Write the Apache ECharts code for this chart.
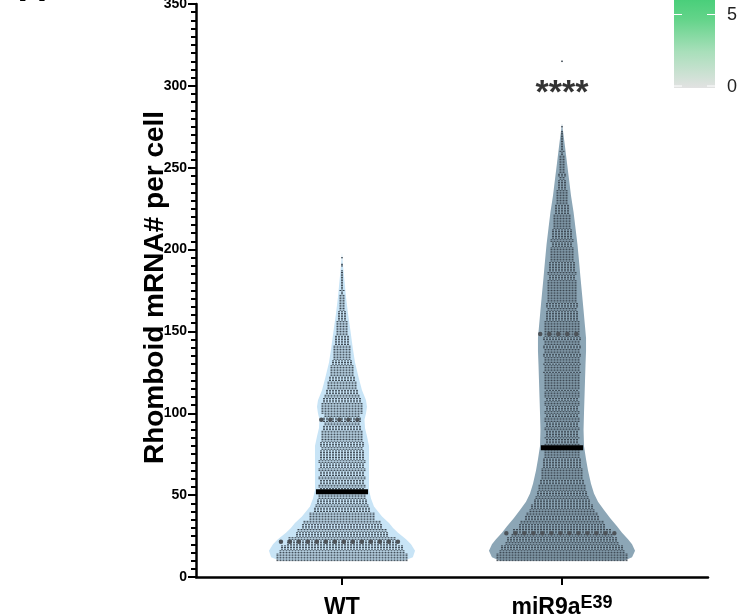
<!DOCTYPE html>
<html><head><meta charset="utf-8">
<script src="https://cdn.jsdelivr.net/npm/echarts@6/dist/echarts.min.js"></script>
<style>html,body{margin:0;padding:0;background:#fff}#c{width:739px;height:616px}</style>
</head><body><div id="c"></div>
<script>
// ---------------- DATA ----------------
const categories = ['WT', 'miR9a'];
const categorySup = ['', 'E39'];
const yTicks = [0, 50, 100, 150, 200, 250, 300, 350];

// violin outline (value, relative density; 1 = widest)
const wtViolinY = [10, 12, 16, 20, 23, 27, 30, 33, 37, 43, 48, 53, 60, 70, 80, 86, 91, 96, 100, 104, 108, 114, 121, 131, 141, 151, 161, 171, 181, 190, 198];
const wtViolinDensity = [0.85, 0.97, 1, 0.945, 0.877, 0.767, 0.699, 0.644, 0.548, 0.438, 0.397, 0.37, 0.37, 0.37, 0.37, 0.342, 0.315, 0.308, 0.329, 0.342, 0.329, 0.274, 0.233, 0.178, 0.144, 0.114, 0.082, 0.055, 0.034, 0.014, 0];
const mirViolinY = [10, 12, 16, 20, 23, 27, 31, 36, 41, 46, 51, 57, 65, 72, 80, 90, 100, 110, 120, 130, 138, 146, 153, 163, 173, 183, 193, 203, 213, 223, 233, 243, 253, 263, 270, 277];
const mirViolinDensity = [0.85, 0.959, 1, 0.959, 0.904, 0.822, 0.753, 0.658, 0.575, 0.493, 0.438, 0.397, 0.356, 0.329, 0.301, 0.295, 0.301, 0.308, 0.315, 0.322, 0.329, 0.329, 0.315, 0.295, 0.274, 0.253, 0.233, 0.212, 0.185, 0.158, 0.123, 0.096, 0.068, 0.041, 0.021, 0];

// cells per 5-unit bin (bin start value)
const wtBinStart = [10, 15, 20, 25, 30, 35, 40, 45, 50, 55, 60, 65, 70, 75, 80, 85, 90, 95, 100, 105, 110, 115, 120, 125, 130, 135, 140, 145, 150, 155, 160, 165, 170, 175, 180, 185, 190, 195];
const wtBinCount = [220, 207, 183, 153, 133, 110, 93, 83, 77, 77, 77, 77, 77, 73, 73, 70, 63, 63, 70, 67, 57, 50, 43, 40, 33, 30, 27, 23, 20, 17, 13, 10, 8, 6, 5, 3, 2, 1];
const mirBinStart = [10, 15, 20, 25, 30, 35, 40, 45, 50, 55, 60, 65, 70, 75, 80, 85, 90, 95, 100, 105, 110, 115, 120, 125, 130, 135, 140, 145, 150, 155, 160, 165, 170, 175, 180, 185, 190, 195, 200, 205, 210, 215, 220, 225, 230, 235, 240, 245, 250, 255, 260, 265, 270, 275];
const mirBinCount = [220, 207, 187, 167, 143, 123, 107, 93, 83, 77, 70, 67, 63, 60, 57, 56, 57, 58, 57, 58, 59, 60, 60, 61, 61, 62, 62, 62, 60, 57, 53, 53, 50, 50, 47, 47, 43, 40, 37, 37, 33, 30, 27, 23, 20, 17, 13, 12, 10, 8, 6, 5, 3, 1];
const mirOutliers = [315];

const medians = [52, 79];
const lowerQuartiles = [21.6, 26.7];
const upperQuartiles = [96, 148.4];
const significance = '****';
const significanceY = 295;
const colorbarLabels = ['5', '0'];

// ---------------- STYLE ----------------
const FONT = '"Liberation Sans", Arial, Helvetica, sans-serif';
const violinColors = ['#c8e4f6', '#8ca6b6'];
const dotColor = '#3b4650';
const VIOLIN_HALF = 0.332;   // widest half-width in category units
const DOT_PITCH = 3, DOT_W = 2, DOT_H = 1;

const violins = [
  {y: wtViolinY, d: wtViolinDensity},
  {y: mirViolinY, d: mirViolinDensity}
];
function densityAt(g, v) {
  const p = violins[g];
  if (v <= p.y[0]) return p.d[0];
  for (let i = 1; i < p.y.length; i++) {
    if (v <= p.y[i]) {
      const t = (v - p.y[i - 1]) / (p.y[i] - p.y[i - 1]);
      return p.d[i - 1] + t * (p.d[i] - p.d[i - 1]);
    }
  }
  return 0;
}

const binData = [];
wtBinStart.forEach((b, i) => binData.push([0, b, wtBinCount[i]]));
mirBinStart.forEach((b, i) => binData.push([1, b, mirBinCount[i]]));

const lineData = [];
for (let g = 0; g < 2; g++) {
  lineData.push([g, lowerQuartiles[g], 0]);
  lineData.push([g, upperQuartiles[g], 0]);
  lineData.push([g, medians[g], 1]);
}

const chart = echarts.init(document.getElementById('c'), null, {renderer: 'canvas'});
chart.setOption({
  animation: false,
  backgroundColor: '#fff',
  grid: {left: 196, right: 31, top: 4, bottom: 39, containLabel: false, outerBoundsMode: 'none'},
  xAxis: {
    type: 'value', min: -0.6636, max: 1.6636,
    axisLine: {show: true, onZero: false, lineStyle: {color: '#000', width: 2.5}},
    axisTick: {show: true, customValues: [0, 1], length: 8, lineStyle: {color: '#000', width: 2}},
    axisLabel: {
      show: true, customValues: [0, 1], margin: 14,
      formatter: v => {
        const i = Math.round(v);
        return categorySup[i] ? '{a|' + categories[i] + '}{b|' + categorySup[i] + '}' : '{a|' + categories[i] + '}';
      },
      rich: {
        a: {fontFamily: FONT, fontWeight: 'bold', fontSize: 23, color: '#000', lineHeight: 28, verticalAlign: 'bottom'},
        b: {fontFamily: FONT, fontWeight: 'bold', fontSize: 18, color: '#000', lineHeight: 28, verticalAlign: 'top', padding: [3, 0, 0, 0]}
      }
    },
    splitLine: {show: false}
  },
  yAxis: {
    type: 'value', min: 0, max: 350, interval: 50,
    name: 'Rhomboid mRNA# per cell', nameLocation: 'middle', nameGap: 27, nameMoveOverlap: false,
    nameTextStyle: {fontFamily: FONT, fontWeight: 'bold', fontSize: 28, color: '#000', padding: [0, 0, 0, 6]},
    axisLine: {show: true, onZero: false, lineStyle: {color: '#000', width: 2.5}},
    axisTick: {show: true, length: 8, lineStyle: {color: '#000', width: 2}},
    minorTick: {show: true, splitNumber: 10, length: 5, lineStyle: {color: '#000', width: 2}},
    axisLabel: {fontFamily: FONT, fontWeight: 'bold', fontSize: 14, color: '#000', margin: 9,
      customValues: yTicks},
    splitLine: {show: false}, minorSplitLine: {show: false}
  },
  series: [
    {
      type: 'custom', name: 'violin', silent: true, z: 1,
      data: [[0], [1]],
      renderItem: (params, api) => {
        const g = api.value(0);
        const p = violins[g];
        const left = [], right = [];
        for (let i = 0; i < p.y.length; i++) {
          left.push(api.coord([g - p.d[i] * VIOLIN_HALF, p.y[i]]));
          right.push(api.coord([g + p.d[i] * VIOLIN_HALF, p.y[i]]));
        }
        const pts = left.concat(right.reverse());
        return {type: 'polygon', shape: {points: pts}, style: {fill: violinColors[g], lineJoin: 'round'}};
      }
    },
    {
      type: 'custom', name: 'cells', silent: true, z: 2,
      data: binData,
      renderItem: (params, api) => {
        const g = api.value(0), b = api.value(1), c = api.value(2);
        const cx = api.coord([g, 0])[0];
        const children = [];
        const base = Math.floor(c / 5), rem = c % 5;
        for (let r = 0; r < 5; r++) {
          const n = base + (r < rem ? 1 : 0);
          if (!n) continue;
          const y = api.coord([g, b + r])[1];
          for (let j = 0; j < n; j++) {
            const x = cx + (j - (n - 1) / 2) * DOT_PITCH;
            children.push({type: 'rect', shape: {x: x - DOT_W / 2, y: y - DOT_H / 2, width: DOT_W, height: DOT_H}, style: {fill: dotColor}});
          }
        }
        return {type: 'group', children};
      }
    },
    {
      type: 'scatter', name: 'outliers', silent: true, z: 3,
      symbol: 'rect', symbolSize: [2, 1.5], itemStyle: {color: dotColor},
      data: mirOutliers.map(v => [1, v])
    },
    {
      type: 'custom', name: 'quartiles', silent: true, z: 4,
      data: lineData,
      renderItem: (params, api) => {
        const g = api.value(0), v = api.value(1), kind = api.value(2);
        const hw = densityAt(g, v) * VIOLIN_HALF * (kind ? 0.95 : 0.92);
        const a = api.coord([g - hw, v]), b2 = api.coord([g + hw, v]);
        return {
          type: 'line', shape: {x1: a[0], y1: a[1], x2: b2[0], y2: b2[1]},
          style: kind ? {stroke: '#000', lineWidth: 5}
                      : {stroke: '#4d5359', lineWidth: 4.5, lineDash: [0, 9], lineCap: 'round'}
        };
      }
    },
    {
      type: 'scatter', name: 'significance', silent: true, z: 5,
      symbolSize: 0, data: [[1, significanceY]],
      label: {show: true, position: 'inside', formatter: significance, fontFamily: FONT, fontWeight: 'bold', fontSize: 34, color: '#000'}
    }
  ],
  graphic: [
    {type: 'text', x: 19, y: -9.5, style: {text: 'A', fontFamily: FONT, fontWeight: 'bold', fontSize: 37, fill: '#000', verticalAlign: 'middle'}},
    {type: 'rect', shape: {x: 674, y: -3, width: 41, height: 91},
      style: {fill: new echarts.graphic.LinearGradient(0, 0, 0, 1, [
        {offset: 0, color: '#46ce78'}, {offset: 0.25, color: '#64d48a'}, {offset: 0.6, color: '#a8dfba'}, {offset: 1, color: '#e2e2e2'}])}},
    {type: 'line', shape: {x1: 674, y1: 14.5, x2: 682, y2: 14.5}, style: {stroke: '#fff', lineWidth: 1}},
    {type: 'line', shape: {x1: 707, y1: 14.5, x2: 715, y2: 14.5}, style: {stroke: '#fff', lineWidth: 1}},
    {type: 'line', shape: {x1: 674, y1: 86, x2: 682, y2: 86}, style: {stroke: '#fff', lineWidth: 1}},
    {type: 'line', shape: {x1: 707, y1: 86, x2: 715, y2: 86}, style: {stroke: '#fff', lineWidth: 1}},
    {type: 'text', x: 727, y: 15, style: {text: colorbarLabels[0], fontFamily: FONT, fontSize: 18, fill: '#222', verticalAlign: 'middle'}},
    {type: 'text', x: 727, y: 87, style: {text: colorbarLabels[1], fontFamily: FONT, fontSize: 18, fill: '#222', verticalAlign: 'middle'}}
  ]
});
</script></body></html>
